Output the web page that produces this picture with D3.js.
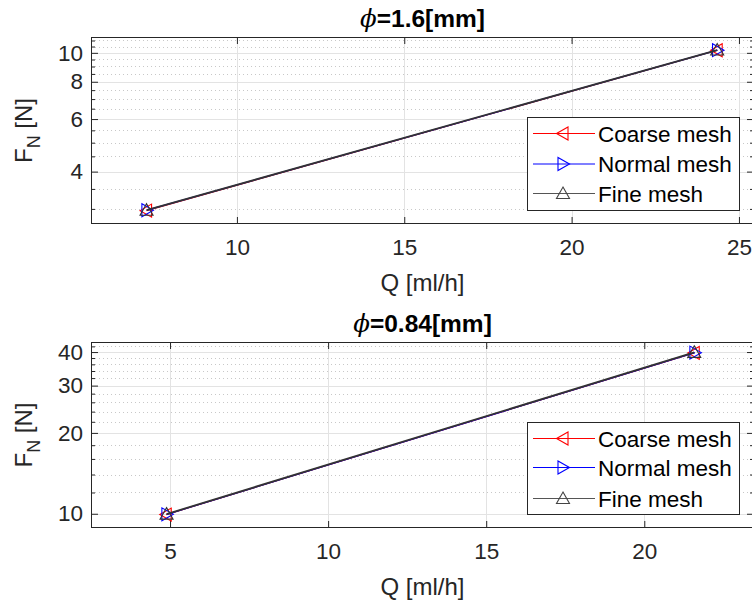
<!DOCTYPE html>
<html>
<head>
<meta charset="utf-8">
<script src="https://cdn.jsdelivr.net/npm/d3@7/dist/d3.min.js"></script>
<style>
  html, body { margin: 0; padding: 0; background: #fff; }
  svg { display: block; font-family: "Liberation Sans", Arial, Helvetica, sans-serif; }
</style>
</head>
<body>
<svg id="chart" width="752" height="608"></svg>
<script>
// ---------------- data ----------------
const seriesNames = ["Coarse mesh", "Normal mesh", "Fine mesh"];
const seriesColors = ["#ff0000", "#0000ff", "#333333"];
const seriesMarkers = ["left", "right", "up"];

// Panel 1: phi = 1.6 mm
const p1Title = "=1.6[mm]";
const p1Q_coarse = [7.30, 24.35];
const p1F_coarse = [2.96, 10.20];
const p1Q_normal = [7.31, 24.36];
const p1F_normal = [2.97, 10.21];
const p1Q_fine = [7.30, 24.35];
const p1F_fine = [2.97, 10.22];
const p1XTicks = [10, 15, 20, 25];
const p1YTicks = [4, 6, 8, 10];
const p1YMinor = [3, 3.5, 4.5, 5, 5.5, 6.5, 7, 7.5, 8.5, 9, 9.5, 10.5, 11];
const p1XDomain = [5.64, 25.45];
const p1YDomain = [2.67, 11.3];

// Panel 2: phi = 0.84 mm
const p2Title = "=0.84[mm]";
const p2Q_coarse = [4.88, 21.58];
const p2F_coarse = [9.93, 39.7];
const p2Q_normal = [4.90, 21.60];
const p2F_normal = [9.95, 39.8];
const p2Q_fine = [4.89, 21.58];
const p2F_fine = [9.97, 39.9];
const p2XTicks = [5, 10, 15, 20];
const p2YTicks = [10, 20, 30, 40];
const p2YMinor = [12, 14, 16, 18, 22, 24, 26, 28, 32, 34, 36, 38, 42];
const p2XDomain = [2.5, 23.47];
const p2YDomain = [8.85, 43.6];

const xLabel = "Q [ml/h]";

// ---------------- drawing ----------------
const svg = d3.select("#chart");
const axisColor = "#262626";
const gridColor = "#e3e3e3";
const minorGridColor = "#c8c8c8";

function markerPath(type, r) {
  const s = r * 0.77;
  if (type === "up") return `M0,${-r}L${r},${s}L${-r},${s}Z`;
  if (type === "left") return `M${-r},0L${s},${-r}L${s},${r}Z`;
  return `M${r},0L${-s},${-r}L${-s},${r}Z`;
}

function drawPanel(cfg) {
  const L = 91, R = 754, T = cfg.top, B = cfg.bottom;
  const x = d3.scaleLinear().domain(cfg.xDomain).range([L, R]);
  const y = d3.scaleLog().domain(cfg.yDomain).range([B, T]);
  const g = svg.append("g");

  g.append("rect").attr("x", L).attr("y", T).attr("width", R - L).attr("height", B - T).attr("fill", "#fff");

  // minor grid (dotted)
  g.append("g").selectAll("line").data(cfg.yMinor).join("line")
    .attr("x1", L).attr("x2", R)
    .attr("y1", d => Math.round(y(d)) + 0.5).attr("y2", d => Math.round(y(d)) + 0.5)
    .attr("stroke", minorGridColor).attr("stroke-width", 1).attr("stroke-dasharray", "1,3");

  // major grid
  g.append("g").selectAll("line").data(cfg.yTicks).join("line")
    .attr("x1", L).attr("x2", R)
    .attr("y1", d => Math.round(y(d)) + 0.5).attr("y2", d => Math.round(y(d)) + 0.5)
    .attr("stroke", gridColor).attr("stroke-width", 1);
  g.append("g").selectAll("line").data(cfg.xTicks).join("line")
    .attr("y1", T).attr("y2", B)
    .attr("x1", d => Math.round(x(d)) + 0.5).attr("x2", d => Math.round(x(d)) + 0.5)
    .attr("stroke", gridColor).attr("stroke-width", 1);

  const styleAxis = sel => {
    sel.select(".domain").remove();
    sel.selectAll(".tick line").attr("stroke", axisColor);
    sel.selectAll(".tick text").attr("fill", axisColor).attr("font-size", 22.5)
      .attr("font-family", "'Liberation Sans', Arial, sans-serif");
  };
  g.append("g").attr("transform", `translate(0,${B})`)
    .call(d3.axisBottom(x).tickValues(cfg.xTicks).tickFormat(d3.format("d")).tickSizeInner(-7).tickSizeOuter(0).tickPadding(15))
    .call(styleAxis);
  g.append("g").attr("transform", `translate(0,${T})`)
    .call(d3.axisTop(x).tickValues(cfg.xTicks).tickFormat("").tickSizeInner(-7).tickSizeOuter(0))
    .call(styleAxis);
  g.append("g").attr("transform", `translate(${L},0)`)
    .call(d3.axisLeft(y).tickValues(cfg.yTicks).tickFormat(d3.format("d")).tickSizeInner(-7).tickSizeOuter(0).tickPadding(8))
    .call(styleAxis);
  g.append("g").attr("transform", `translate(${L},0)`)
    .call(d3.axisLeft(y).tickValues(cfg.yMinor).tickFormat("").tickSizeInner(-4).tickSizeOuter(0))
    .call(styleAxis);
  g.append("g").attr("transform", `translate(${R},0)`)
    .call(d3.axisRight(y).tickValues(cfg.yTicks).tickFormat("").tickSizeInner(-7).tickSizeOuter(0))
    .call(styleAxis);
  g.append("g").attr("transform", `translate(${R},0)`)
    .call(d3.axisRight(y).tickValues(cfg.yMinor).tickFormat("").tickSizeInner(-4).tickSizeOuter(0))
    .call(styleAxis);

  g.append("rect").attr("x", L + 0.5).attr("y", T + 0.5).attr("width", R - L - 1).attr("height", B - T - 1)
    .attr("fill", "none").attr("stroke", axisColor).attr("stroke-width", 1);

  // data
  const line = d3.line().x(d => x(d[0])).y(d => y(d[1]));
  cfg.series.forEach((s, i) => {
    const pts = s.q.map((q, k) => [q, s.f[k]]);
    g.append("path").datum(pts).attr("d", line)
      .attr("fill", "none").attr("stroke", seriesColors[i]).attr("stroke-width", i === 2 ? 1.8 : 1.2);
    g.append("g").selectAll("path").data(pts).join("path")
      .attr("transform", d => `translate(${x(d[0])},${y(d[1])})`)
      .attr("d", markerPath(seriesMarkers[i], 6.5))
      .attr("fill", "none").attr("stroke", seriesColors[i]).attr("stroke-width", 1.1);
  });

  // title
  const cx = (L + R) / 2;
  const t = g.append("text").attr("x", cx).attr("y", T - 10).attr("text-anchor", "middle")
    .attr("font-size", 24.5).attr("fill", "#000");
  t.append("tspan").attr("font-style", "italic").attr("font-family", "'DejaVu Serif', serif").text("ϕ");
  t.append("tspan").attr("font-weight", "bold").text(cfg.title);

  // x label
  g.append("text").attr("x", cx).attr("y", B + 67).attr("text-anchor", "middle")
    .attr("font-size", 24).attr("fill", axisColor).text(xLabel);

  // y label
  const yl = g.append("text").attr("transform", `translate(32,${(T + B) / 2}) rotate(-90)`)
    .attr("text-anchor", "middle").attr("font-size", 24).attr("fill", axisColor);
  yl.append("tspan").text("F");
  yl.append("tspan").attr("font-size", 18).attr("dy", 8).text("N");
  yl.append("tspan").attr("dy", -8).text(" [N]");

  // legend
  const lg = g.append("g");
  lg.append("rect").attr("x", cfg.legend.x + 0.5).attr("y", cfg.legend.y + 0.5)
    .attr("width", 212).attr("height", cfg.legend.h)
    .attr("fill", "#fff").attr("stroke", axisColor).attr("stroke-width", 1);
  seriesNames.forEach((name, i) => {
    const ry = cfg.legend.y + cfg.legend.rows[i];
    lg.append("line").attr("x1", cfg.legend.x + 6).attr("x2", cfg.legend.x + 68)
      .attr("y1", ry).attr("y2", ry).attr("stroke", i === 2 ? "#555555" : seriesColors[i]).attr("stroke-width", 1.2);
    lg.append("path").attr("transform", `translate(${cfg.legend.x + 36},${ry})`)
      .attr("d", markerPath(seriesMarkers[i], 6.5))
      .attr("fill", "none").attr("stroke", i === 2 ? "#444444" : seriesColors[i]).attr("stroke-width", 1.1);
    lg.append("text").attr("x", cfg.legend.x + 71).attr("y", ry + 8)
      .attr("font-size", 22.5).attr("fill", "#000").text(name);
  });
}

drawPanel({
  top: 37, bottom: 224, xDomain: p1XDomain, yDomain: p1YDomain,
  xTicks: p1XTicks, yTicks: p1YTicks, yMinor: p1YMinor, title: p1Title,
  series: [
    { q: p1Q_coarse, f: p1F_coarse },
    { q: p1Q_normal, f: p1F_normal },
    { q: p1Q_fine, f: p1F_fine }
  ],
  legend: { x: 527, y: 117, h: 93, rows: [16.5, 47, 76.5] }
});

drawPanel({
  top: 342, bottom: 528, xDomain: p2XDomain, yDomain: p2YDomain,
  xTicks: p2XTicks, yTicks: p2YTicks, yMinor: p2YMinor, title: p2Title,
  series: [
    { q: p2Q_coarse, f: p2F_coarse },
    { q: p2Q_normal, f: p2F_normal },
    { q: p2Q_fine, f: p2F_fine }
  ],
  legend: { x: 527, y: 422, h: 92, rows: [16.5, 45.5, 76.5] }
});
</script>
</body>
</html>
